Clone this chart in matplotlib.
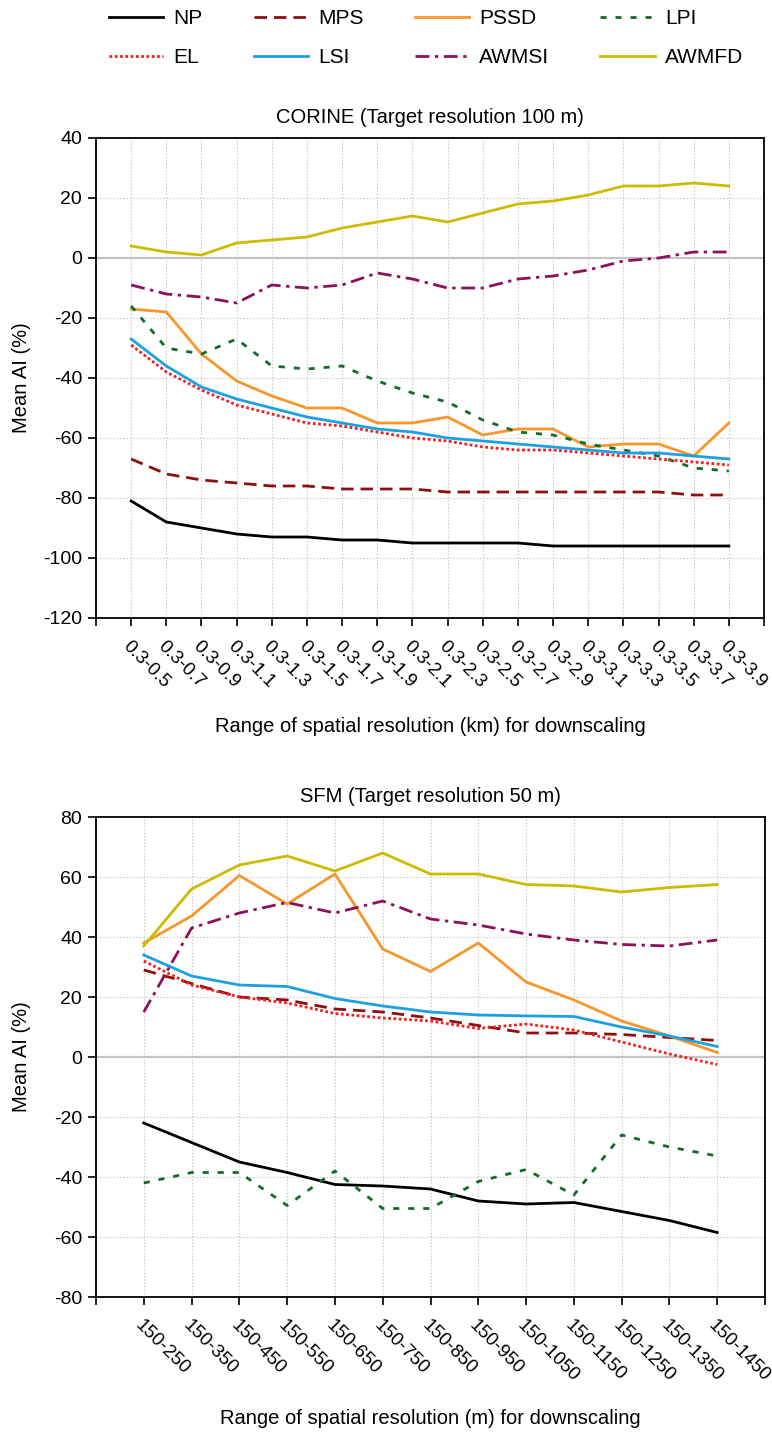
import matplotlib
matplotlib.use("Agg")
import matplotlib.pyplot as plt
from matplotlib.lines import Line2D

plt.rcParams['font.family'] = ['Liberation Sans', 'DejaVu Sans']

# ---------------- data ----------------
corine_cats = ["0.3-0.5", "0.3-0.7", "0.3-0.9", "0.3-1.1", "0.3-1.3", "0.3-1.5",
               "0.3-1.7", "0.3-1.9", "0.3-2.1", "0.3-2.3", "0.3-2.5", "0.3-2.7",
               "0.3-2.9", "0.3-3.1", "0.3-3.3", "0.3-3.5", "0.3-3.7", "0.3-3.9"]
corine_NP = [-81, -88, -90, -92, -93, -93, -94, -94, -95, -95, -95, -95, -96, -96, -96, -96, -96, -96]
corine_MPS = [-67, -72, -74, -75, -76, -76, -77, -77, -77, -78, -78, -78, -78, -78, -78, -78, -79, -79]
corine_PSSD = [-17, -18, -32, -41, -46, -50, -50, -55, -55, -53, -59, -57, -57, -63, -62, -62, -66, -55]
corine_LPI = [-16, -30, -32, -27, -36, -37, -36, -41, -45, -48, -54, -58, -59, -62, -64, -66, -70, -71]
corine_EL = [-29, -38, -44, -49, -52, -55, -56, -58, -60, -61, -63, -64, -64, -65, -66, -67, -68, -69]
corine_LSI = [-27, -36, -43, -47, -50, -53, -55, -57, -58, -60, -61, -62, -63, -64, -65, -65, -66, -67]
corine_AWMSI = [-9, -12, -13, -15, -9, -10, -9, -5, -7, -10, -10, -7, -6, -4, -1, 0, 2, 2]
corine_AWMFD = [4, 2, 1, 5, 6, 7, 10, 12, 14, 12, 15, 18, 19, 21, 24, 24, 25, 24]

sfm_cats = ["150-250", "150-350", "150-450", "150-550", "150-650", "150-750", "150-850",
            "150-950", "150-1050", "150-1150", "150-1250", "150-1350", "150-1450"]
sfm_NP = [-22, -28.5, -35, -38.5, -42.5, -43, -44, -48, -49, -48.5, -51.5, -54.5, -58.5]
sfm_MPS = [29, 24.5, 20, 19, 16, 15, 13, 10.5, 8, 8, 7.5, 6.5, 5.5]
sfm_PSSD = [38, 47, 60.5, 51, 61, 36, 28.5, 38, 25, 19, 12, 7, 1.5]
sfm_LPI = [-42, -38.5, -38.5, -49.5, -38, -50.5, -50.5, -41.5, -37.5, -46, -26, -30, -33]
sfm_EL = [32, 24, 20, 18, 14.5, 13, 12, 9.5, 11, 9, 5, 1, -2.5]
sfm_LSI = [34, 27, 24, 23.5, 19.5, 17, 15, 14, 13.7, 13.5, 10, 7, 3.5]
sfm_AWMSI = [15, 43, 48, 51.5, 48, 52, 46, 44, 41, 39, 37.5, 37, 39]
sfm_AWMFD = [37, 56, 64, 67, 62, 68, 61, 61, 57.5, 57, 55, 56.5, 57.5]

metric_names = ["NP", "MPS", "PSSD", "LPI", "EL", "LSI", "AWMSI", "AWMFD"]

# ---------------- styles ----------------
styles = {
    "NP":    dict(color="#000000", linestyle="-"),
    "MPS":   dict(color="#8E0F0F", linestyle=(0, (4.5, 2.5))),
    "PSSD":  dict(color="#F7962A", linestyle="-"),
    "LPI":   dict(color="#136A2E", linestyle=(0, (2.2, 3.2))),
    "EL":    dict(color="#F42020", linestyle=(0, (1.0, 0.9))),
    "LSI":   dict(color="#1CA0E0", linestyle="-"),
    "AWMSI": dict(color="#8E0F5C", linestyle=(0, (5, 2, 1.2, 2))),
    "AWMFD": dict(color="#CDBB00", linestyle="-"),
}
LW = 2.0

W, H = 772, 1436
fig = plt.figure(figsize=(W / 100, H / 100), dpi=100)


def ax_rect(l, t, r, b):
    return [l / W, 1 - b / H, (r - l) / W, (b - t) / H]


def draw_panel(ax, cats, series, ylim, title, xlabel, xlabel_y):
    n = len(cats)
    x = list(range(1, n + 1))
    ax.set_xlim(0, n + 1)
    ax.set_ylim(*ylim)
    for xi in x:
        ax.axvline(xi, color="#CFCFCF", lw=0.8, linestyle=(0, (1.5, 1.5)), zorder=0)
    yt = list(range(ylim[0], ylim[1] + 1, 20))
    for yv in yt:
        if yv != 0 and yv not in ylim:
            ax.axhline(yv, color="#CFCFCF", lw=0.8, linestyle=(0, (1.5, 1.5)), zorder=0)
    ax.axhline(0, color="#C4C4C4", lw=1.6, zorder=1)
    for name in metric_names:
        ax.plot(x, series[name], lw=LW, zorder=3, **styles[name])
    ax.set_xticks(list(range(0, n + 2)))
    ax.set_xticklabels([""] + cats + [""], rotation=-45, ha="left", va="top",
                       rotation_mode="anchor", fontsize=13.5)
    ax.set_yticks(yt)
    ax.set_yticklabels([str(v) for v in yt], fontsize=14)
    ax.tick_params(axis="both", direction="out", length=6, width=1.2, colors="black")
    ax.tick_params(axis="x", pad=8)
    ax.tick_params(axis="y", pad=4)
    for s in ax.spines.values():
        s.set_linewidth(1.3)
    ax.set_title(title, fontsize=14.5, pad=11)
    pos = ax.get_position()
    fig.text(pos.x0 + pos.width / 2, 1 - xlabel_y / H, xlabel, ha="center", va="center", fontsize=14.5)
    fig.text(22 / W, pos.y0 + pos.height / 2, "Mean AI (%)", rotation=90,
             ha="center", va="center", fontsize=14.5)


ax1 = fig.add_axes(ax_rect(96, 138, 764, 618))
draw_panel(ax1, corine_cats,
           dict(NP=corine_NP, MPS=corine_MPS, PSSD=corine_PSSD, LPI=corine_LPI,
                EL=corine_EL, LSI=corine_LSI, AWMSI=corine_AWMSI, AWMFD=corine_AWMFD),
           (-120, 40), "CORINE (Target resolution 100 m)",
           "Range of spatial resolution (km) for downscaling", 727)

ax2 = fig.add_axes(ax_rect(96, 817, 765, 1297))
draw_panel(ax2, sfm_cats,
           dict(NP=sfm_NP, MPS=sfm_MPS, PSSD=sfm_PSSD, LPI=sfm_LPI,
                EL=sfm_EL, LSI=sfm_LSI, AWMSI=sfm_AWMSI, AWMFD=sfm_AWMFD),
           (-80, 80), "SFM (Target resolution 50 m)",
           "Range of spatial resolution (m) for downscaling", 1418)

# legend: row-major order (matplotlib fills column-wise)
legend_order = ["NP", "EL", "MPS", "LSI", "PSSD", "AWMSI", "LPI", "AWMFD"]
handles = [Line2D([0], [0], lw=LW, **styles[n]) for n in legend_order]
fig.legend(handles, legend_order, loc="center", bbox_to_anchor=(426 / W, 1 - 38 / H),
           ncol=4, frameon=False, fontsize=15, handlelength=2.6, handletextpad=0.5,
           columnspacing=2.45, labelspacing=0.95)

fig.savefig("out.png", dpi=100)
